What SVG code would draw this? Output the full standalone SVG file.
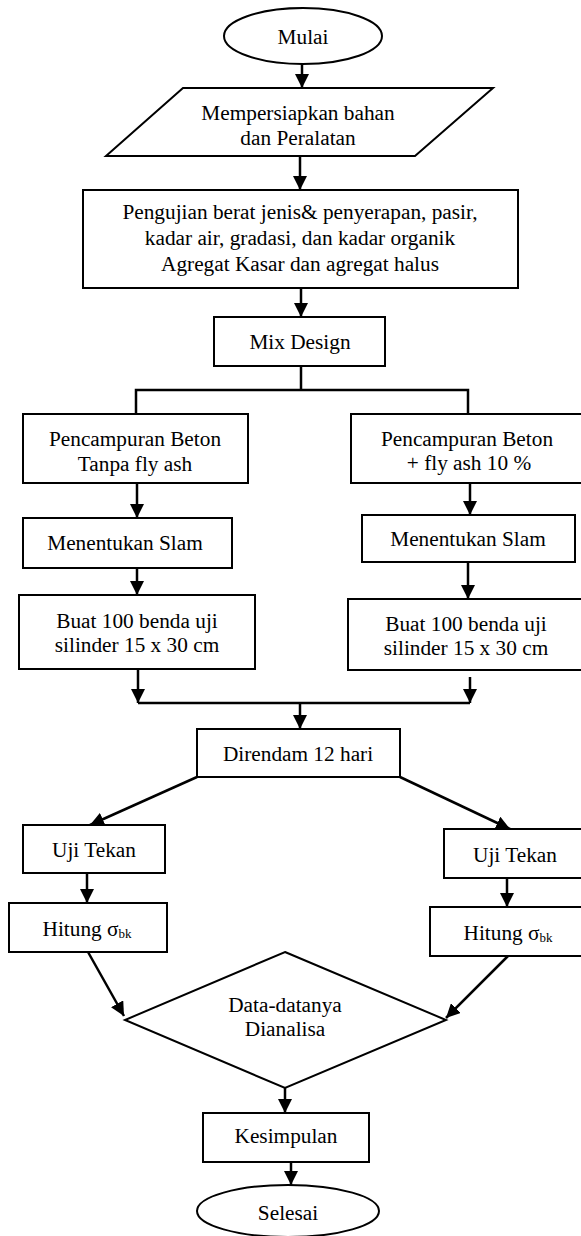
<svg xmlns="http://www.w3.org/2000/svg" width="581" height="1236" viewBox="0 0 581 1236">
<style>
  .box { fill: #ffffff; stroke: #000000; stroke-width: 2; }
  .t { font-family: "Liberation Serif", "Times New Roman", serif; font-size: 21.3px; fill: #000000; text-anchor: middle; }
  .sub { font-size: 13px; }
  .c { fill: none; stroke: #000000; stroke-width: 2.5; }
  .ca { fill: none; stroke: #000000; stroke-width: 2.5; marker-end: url(#ah); }
</style>
<defs>
  <marker id="ah" markerUnits="userSpaceOnUse" markerWidth="14" markerHeight="14" refX="14" refY="7" orient="auto">
    <path d="M0,0 L14,7 L0,14 z" fill="#000000"/>
  </marker>
</defs>
<rect width="581" height="1236" fill="#ffffff"/>

<g id="connectors">
  <line class="ca" x1="302" y1="64" x2="302" y2="88"/>
  <line class="ca" x1="300" y1="156" x2="300" y2="190"/>
  <line class="ca" x1="301" y1="288" x2="301" y2="317"/>
  <polyline class="c" points="301,366 301,390"/>
  <polyline class="c" points="136,414 136,390 468,390 468,414"/>
  <line class="ca" x1="137" y1="483" x2="137" y2="518"/>
  <line class="ca" x1="470" y1="483" x2="470" y2="515"/>
  <line class="ca" x1="137" y1="568" x2="137" y2="595"/>
  <line class="ca" x1="468" y1="562" x2="468" y2="599"/>
  <line class="ca" x1="138" y1="669" x2="138" y2="703"/>
  <line class="ca" x1="470" y1="677" x2="470" y2="703"/>
  <line class="c" x1="138" y1="703" x2="470" y2="703"/>
  <line class="ca" x1="300" y1="703" x2="300" y2="729"/>
  <line class="ca" x1="197" y1="777" x2="90" y2="825"/>
  <line class="ca" x1="400" y1="777" x2="510" y2="829"/>
  <line class="ca" x1="87" y1="873" x2="87" y2="903"/>
  <line class="ca" x1="507" y1="878" x2="507" y2="907"/>
  <line class="ca" x1="88" y1="952" x2="124" y2="1016"/>
  <line class="ca" x1="508" y1="956" x2="446" y2="1018"/>
  <line class="ca" x1="285" y1="1088" x2="285" y2="1113"/>
  <line class="ca" x1="291" y1="1162" x2="291" y2="1185"/>
</g>

<g id="mulai">
  <ellipse class="box" cx="303" cy="36" rx="79" ry="28"/>
  <text class="t" x="303" y="44">Mulai</text>
</g>

<g id="persiapan">
  <polygon class="box" points="183,88 493,88 415,156 106,156"/>
  <text class="t" x="298" y="120">Mempersiapkan bahan</text>
  <text class="t" x="298" y="145">dan Peralatan</text>
</g>

<g id="pengujian">
  <rect class="box" x="83" y="190" width="435" height="98"/>
  <text class="t" x="300" y="219">Pengujian berat jenis&amp; penyerapan, pasir,</text>
  <text class="t" x="300" y="245">kadar air, gradasi, dan kadar organik</text>
  <text class="t" x="300" y="271">Agregat Kasar dan agregat halus</text>
</g>

<g id="mixdesign">
  <rect class="box" x="214" y="317" width="171" height="49"/>
  <text class="t" x="300" y="349">Mix Design</text>
</g>

<g id="campur-kiri">
  <rect class="box" x="23" y="414" width="225" height="69"/>
  <text class="t" x="135" y="446">Pencampuran Beton</text>
  <text class="t" x="135" y="471">Tanpa fly ash</text>
</g>

<g id="campur-kanan">
  <rect class="box" x="351" y="414" width="234" height="69"/>
  <text class="t" x="467" y="446">Pencampuran Beton</text>
  <text class="t" x="469" y="470">+ fly ash 10 %</text>
</g>

<g id="slam-kiri">
  <rect class="box" x="23" y="518" width="209" height="50"/>
  <text class="t" x="125" y="550">Menentukan Slam</text>
</g>

<g id="slam-kanan">
  <rect class="box" x="362" y="515" width="213" height="47"/>
  <text class="t" x="468" y="546">Menentukan Slam</text>
</g>

<g id="buat-kiri">
  <rect class="box" x="19" y="595" width="236" height="74"/>
  <text class="t" x="137" y="628">Buat 100 benda uji</text>
  <text class="t" x="137" y="652">silinder 15 x 30 cm</text>
</g>

<g id="buat-kanan">
  <rect class="box" x="348" y="599" width="237" height="71"/>
  <text class="t" x="466" y="631">Buat 100 benda uji</text>
  <text class="t" x="466" y="655">silinder 15 x 30 cm</text>
</g>

<g id="direndam">
  <rect class="box" x="197" y="729" width="203" height="48"/>
  <text class="t" x="298" y="761">Direndam 12 hari</text>
</g>

<g id="uji-kiri">
  <rect class="box" x="23" y="825" width="142" height="48"/>
  <text class="t" x="94" y="857">Uji Tekan</text>
</g>

<g id="uji-kanan">
  <rect class="box" x="444" y="829" width="141" height="49"/>
  <text class="t" x="515" y="862">Uji Tekan</text>
</g>

<g id="hitung-kiri">
  <rect class="box" x="9" y="903" width="158" height="49"/>
  <text class="t" x="87" y="936">Hitung σ<tspan class="sub" dy="2">bk</tspan></text>
</g>

<g id="hitung-kanan">
  <rect class="box" x="430" y="907" width="155" height="49"/>
  <text class="t" x="508" y="940">Hitung σ<tspan class="sub" dy="2">bk</tspan></text>
</g>

<g id="analisa">
  <polygon class="box" points="285,952 446,1020 285,1088 125,1020"/>
  <text class="t" x="285" y="1012">Data-datanya</text>
  <text class="t" x="285" y="1036">Dianalisa</text>
</g>

<g id="kesimpulan">
  <rect class="box" x="203" y="1113" width="166" height="49"/>
  <text class="t" x="286" y="1143">Kesimpulan</text>
</g>

<g id="selesai">
  <ellipse class="box" cx="288" cy="1211" rx="91" ry="26"/>
  <text class="t" x="288" y="1220">Selesai</text>
</g>
</svg>
